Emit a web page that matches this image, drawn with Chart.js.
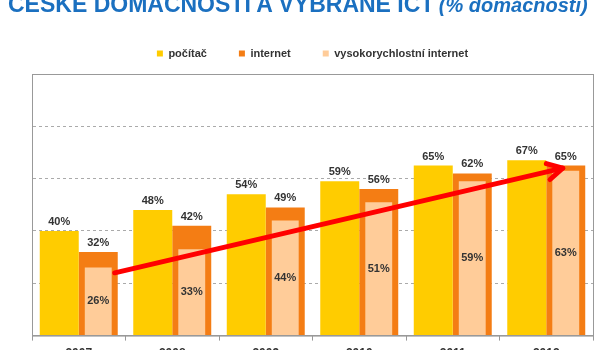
<!DOCTYPE html>
<html>
<head>
<meta charset="utf-8">
<script src="https://cdn.jsdelivr.net/npm/chart.js@4.4.1/dist/chart.umd.min.js"></script>
<style>
  html, body { margin: 0; padding: 0; background: #fff; overflow: hidden; width: 600px; height: 350px; }
  #title { position: absolute; left: 8px; top: -7px; white-space: nowrap; font-family: 'Liberation Sans', Arial, sans-serif; color: #1b70c0; line-height: 22px; z-index: 2; }
  #title b { font-size: 23px; }
  #title i { font-size: 20px; font-weight: bold; }
  #wrap { position: absolute; left: 0; top: 0; width: 600px; height: 367px; }
</style>
</head>
<body>
<div id="title"><b>ČESKÉ DOMÁCNOSTI A VYBRANÉ ICT</b> <i>(% domácností)</i></div>
<div id="wrap"><canvas id="chart"></canvas></div>
<script>
const years = ['2007', '2008', '2009', '2010', '2011', '2012'];
const pocitac = [40, 48, 54, 59, 65, 67];
const internet = [32, 42, 49, 56, 62, 65];
const vysokorychlostni = [26, 33, 44, 51, 59, 63];
const yTicks = [0, 20, 40, 60, 80, 100];
// trend arrow: [category index, value]
const arrowFrom = [0, 24];
const arrowTo = [5, 64];

const FONT = '"Liberation Sans", Arial, sans-serif';

// a little more room between legend and plot
const legendGap = {
    id: 'legendGap',
    beforeLayout(chart) {
        const lg = chart.legend;
        if (lg && !lg._gapPatched) {
            const fit = lg.fit;
            lg.fit = function () { fit.call(this); this.height += 5; };
            lg._gapPatched = true;
        }
    }
};

// value labels + red arrow + frame
const overlay = {
    id: 'overlay',
    afterDatasetsDraw(chart) {
        const ctx = chart.ctx;
        const area = chart.chartArea;
        const y = chart.scales.y;
        ctx.save();
        // frame round plot area
        ctx.strokeStyle = '#999';
        ctx.lineWidth = 1;
        ctx.strokeRect(area.left + 0.5, area.top + 0.5, area.right - area.left, area.bottom - area.top);

        ctx.font = 'bold 11px ' + FONT;
        ctx.fillStyle = '#333';
        ctx.textAlign = 'center';
        ctx.textBaseline = 'middle';
        chart.data.datasets.forEach((ds, i) => {
            const meta = chart.getDatasetMeta(i);
            meta.data.forEach((bar, j) => {
                const ly = ds.inside ? (bar.y + bar.base) / 2 : bar.y - 9;
                ctx.fillText(ds.data[j] + '%', bar.x, ly);
            });
        });

        // arrow, anchored on the orange bars
        const orange = chart.getDatasetMeta(1).data;
        const b0 = orange[arrowFrom[0]];
        const b1 = orange[arrowTo[0]];
        const x0 = b0.x + b0.width / 2 - 3, y0 = y.getPixelForValue(arrowFrom[1]);
        const x1 = b1.x - 3, y1 = y.getPixelForValue(arrowTo[1]);
        const ang = Math.atan2(y1 - y0, x1 - x0);
        ctx.strokeStyle = '#ff0000';
        ctx.lineWidth = 5;
        ctx.lineCap = 'round';
        ctx.lineJoin = 'round';
        ctx.beginPath();
        ctx.moveTo(x0, y0);
        ctx.lineTo(x1, y1);
        ctx.stroke();
        const len = 17, spread = 0.5;
        ctx.beginPath();
        ctx.moveTo(x1 - len * Math.cos(ang - spread), y1 - len * Math.sin(ang - spread));
        ctx.lineTo(x1, y1);
        ctx.lineTo(x1 - len * Math.cos(ang + spread), y1 - len * Math.sin(ang + spread));
        ctx.stroke();
        ctx.restore();
    }
};

const ctx = document.getElementById('chart').getContext('2d');
new Chart(ctx, {
    type: 'bar',
    data: {
        labels: years,
        datasets: [
            { label: 'počítač', data: pocitac, backgroundColor: '#ffcc00', stack: 'a', order: 0,
              categoryPercentage: 0.834, barPercentage: 1 },
            { label: 'internet', data: internet, backgroundColor: '#f47d14', stack: 'b', order: 2,
              categoryPercentage: 0.834, barPercentage: 1 },
            // same slot as internet, narrower, drawn on top of it
            { label: 'vysokorychlostní internet', data: vysokorychlostni, backgroundColor: '#ffcc99', stack: 'b', order: 1,
              categoryPercentage: 0.834, barPercentage: 0.69, inside: true }
        ]
    },
    options: {
        responsive: true,
        maintainAspectRatio: false,
        animation: false,
        layout: { padding: { left: 32, right: 7, top: 16, bottom: 0 } },
        plugins: {
            legend: {
                position: 'top',
                labels: {
                    boxWidth: 6,
                    boxHeight: 6,
                    padding: 32,
                    color: '#333',
                    font: { size: 11, weight: 'bold', family: FONT },
                    sort: (a, b) => a.datasetIndex - b.datasetIndex
                }
            },
            tooltip: { enabled: false }
        },
        scales: {
            x: {
                offset: true,
                grid: { offset: true, drawOnChartArea: false, drawTicks: true, tickLength: 5, color: '#999' },
                border: { color: '#999' },
                ticks: { color: '#333', font: { size: 12, weight: 'bold', family: FONT }, padding: 6 }
            },
            y: {
                min: 0,
                max: 100,
                stacked: false,
                afterBuildTicks: axis => { axis.ticks = yTicks.map(v => ({ value: v })); },
                ticks: { display: false },
                grid: { color: '#aaa', drawTicks: false },
                border: { color: '#999', dash: [3, 3] }
            }
        }
    },
    plugins: [legendGap, overlay]
});
</script>
</body>
</html>
